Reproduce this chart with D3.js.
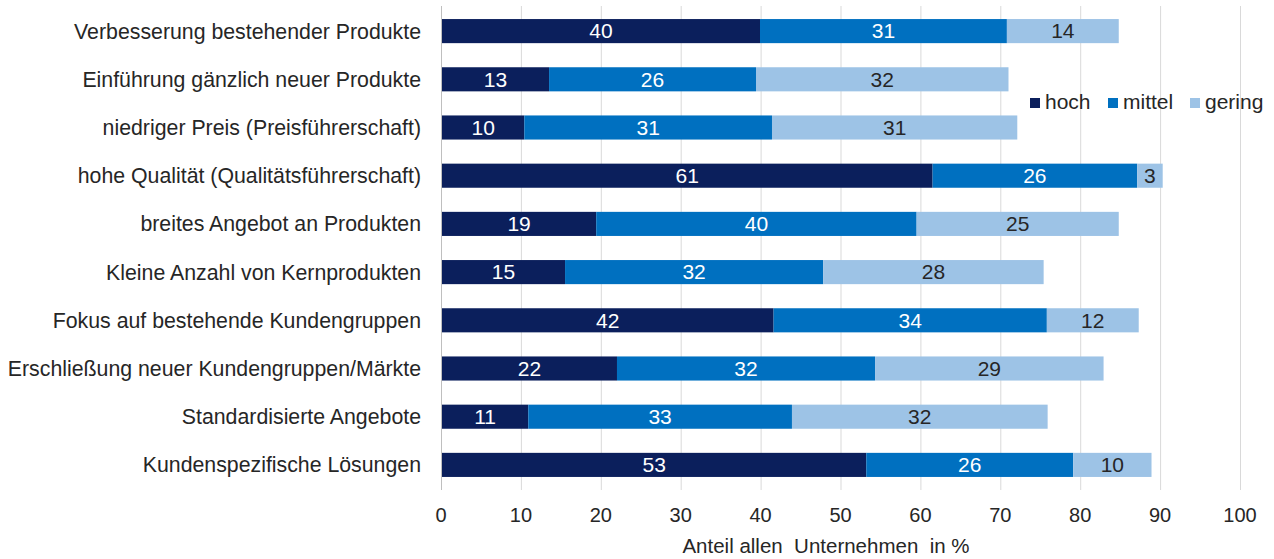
<!DOCTYPE html>
<html><head><meta charset="utf-8">
<script src="https://cdn.jsdelivr.net/npm/d3@7"></script>
<style>
html,body{margin:0;padding:0;background:#fff;}
text{font-family:"Liberation Sans",Arial,sans-serif;}
</style></head>
<body><svg id="chart" width="1274" height="559"></svg>
<script>
const categories = ["Verbesserung bestehender Produkte","Einführung gänzlich neuer Produkte","niedriger Preis (Preisführerschaft)","hohe Qualität (Qualitätsführerschaft)","breites Angebot an Produkten","Kleine Anzahl von Kernprodukten","Fokus auf bestehende Kundengruppen","Erschließung neuer Kundengruppen/Märkte","Standardisierte Angebote","Kundenspezifische Lösungen"];
const hoch   = [39.8, 13.4, 10.3, 61.4, 19.3, 15.4, 41.5, 21.9, 10.8, 53.1];
const mittel = [30.9, 25.9, 31.0, 25.6, 40.1, 32.3, 34.2, 32.3, 33.0, 25.9];
const gering = [14.0, 31.6, 30.7, 3.2, 25.3, 27.6, 11.5, 28.6, 32.0, 9.8];
const seriesNames = ["hoch","mittel","gering"];
const colors = ["#0b1f5c","#0070c0","#9dc3e6"];
const labelColors = ["#ffffff","#ffffff","#262626"];
const xTicks = [0,10,20,30,40,50,60,70,80,90,100];
const axisTitle = "Anteil allen  Unternehmen  in %";

const svg = d3.select("#chart");
const fsCat = 21.3, fsLab = 21, fsTick = 20, fsTitle = 20.5;
const x = d3.scaleLinear().domain([0,100]).range([441,1240]);
const y = d3.scaleBand().domain(categories).range([7,489]).paddingInner(0.5).paddingOuter(0.25);

// gridlines
svg.append("g").selectAll("line").data(xTicks).join("line")
  .attr("x1",d=>x(d)+0.5).attr("x2",d=>x(d)+0.5)
  .attr("y1",6).attr("y2",490)
  .attr("stroke",d=>d===0?"#bfbfbf":"#d9d9d9").attr("stroke-width",1);

const table = categories.map((c,i)=>({cat:c, hoch:hoch[i], mittel:mittel[i], gering:gering[i]}));
const stacked = d3.stack().keys(seriesNames)(table);

const g = svg.append("g");
stacked.forEach((s,si)=>{
  g.append("g").selectAll("rect").data(s).join("rect")
    .attr("x",d=>x(d[0])+1).attr("width",d=>x(d[1])-x(d[0]))
    .attr("y",d=>y(d.data.cat)).attr("height",y.bandwidth())
    .attr("fill",colors[si]);
  g.append("g").selectAll("text").data(s).join("text")
    .attr("x",d=>(x(d[0])+x(d[1]))/2+1).attr("y",d=>y(d.data.cat)+y.bandwidth()/2)
    .attr("dy","0.35em").attr("text-anchor","middle")
    .attr("font-size",fsLab).attr("fill",labelColors[si])
    .text(d=>d3.format(".0f")(d[1]-d[0]));
});

// category labels
svg.append("g").selectAll("text").data(categories).join("text")
  .attr("x",421).attr("y",d=>y(d)+y.bandwidth()/2).attr("dy","0.35em")
  .attr("text-anchor","end").attr("font-size",fsCat).attr("fill","#262626").text(d=>d);

// x tick labels
svg.append("g").selectAll("text").data(xTicks).join("text")
  .attr("x",d=>x(d)).attr("y",522).attr("text-anchor","middle")
  .attr("font-size",fsTick).attr("fill","#262626").text(d=>d);

svg.append("text").attr("x",826).attr("y",553).attr("text-anchor","middle")
  .attr("font-size",fsTitle).attr("fill","#262626").style("white-space","pre").text(axisTitle);

// legend
const legX = [1030,1108,1190];
const leg = svg.append("g").selectAll("g").data(seriesNames).join("g")
  .attr("transform",(d,i)=>`translate(${legX[i]},98)`);
leg.append("rect").attr("width",10).attr("height",10).attr("fill",(d,i)=>colors[i]);
leg.append("text").attr("x",15).attr("y",11).attr("font-size",fsLab).attr("fill","#262626").text(d=>d);
</script></body></html>
